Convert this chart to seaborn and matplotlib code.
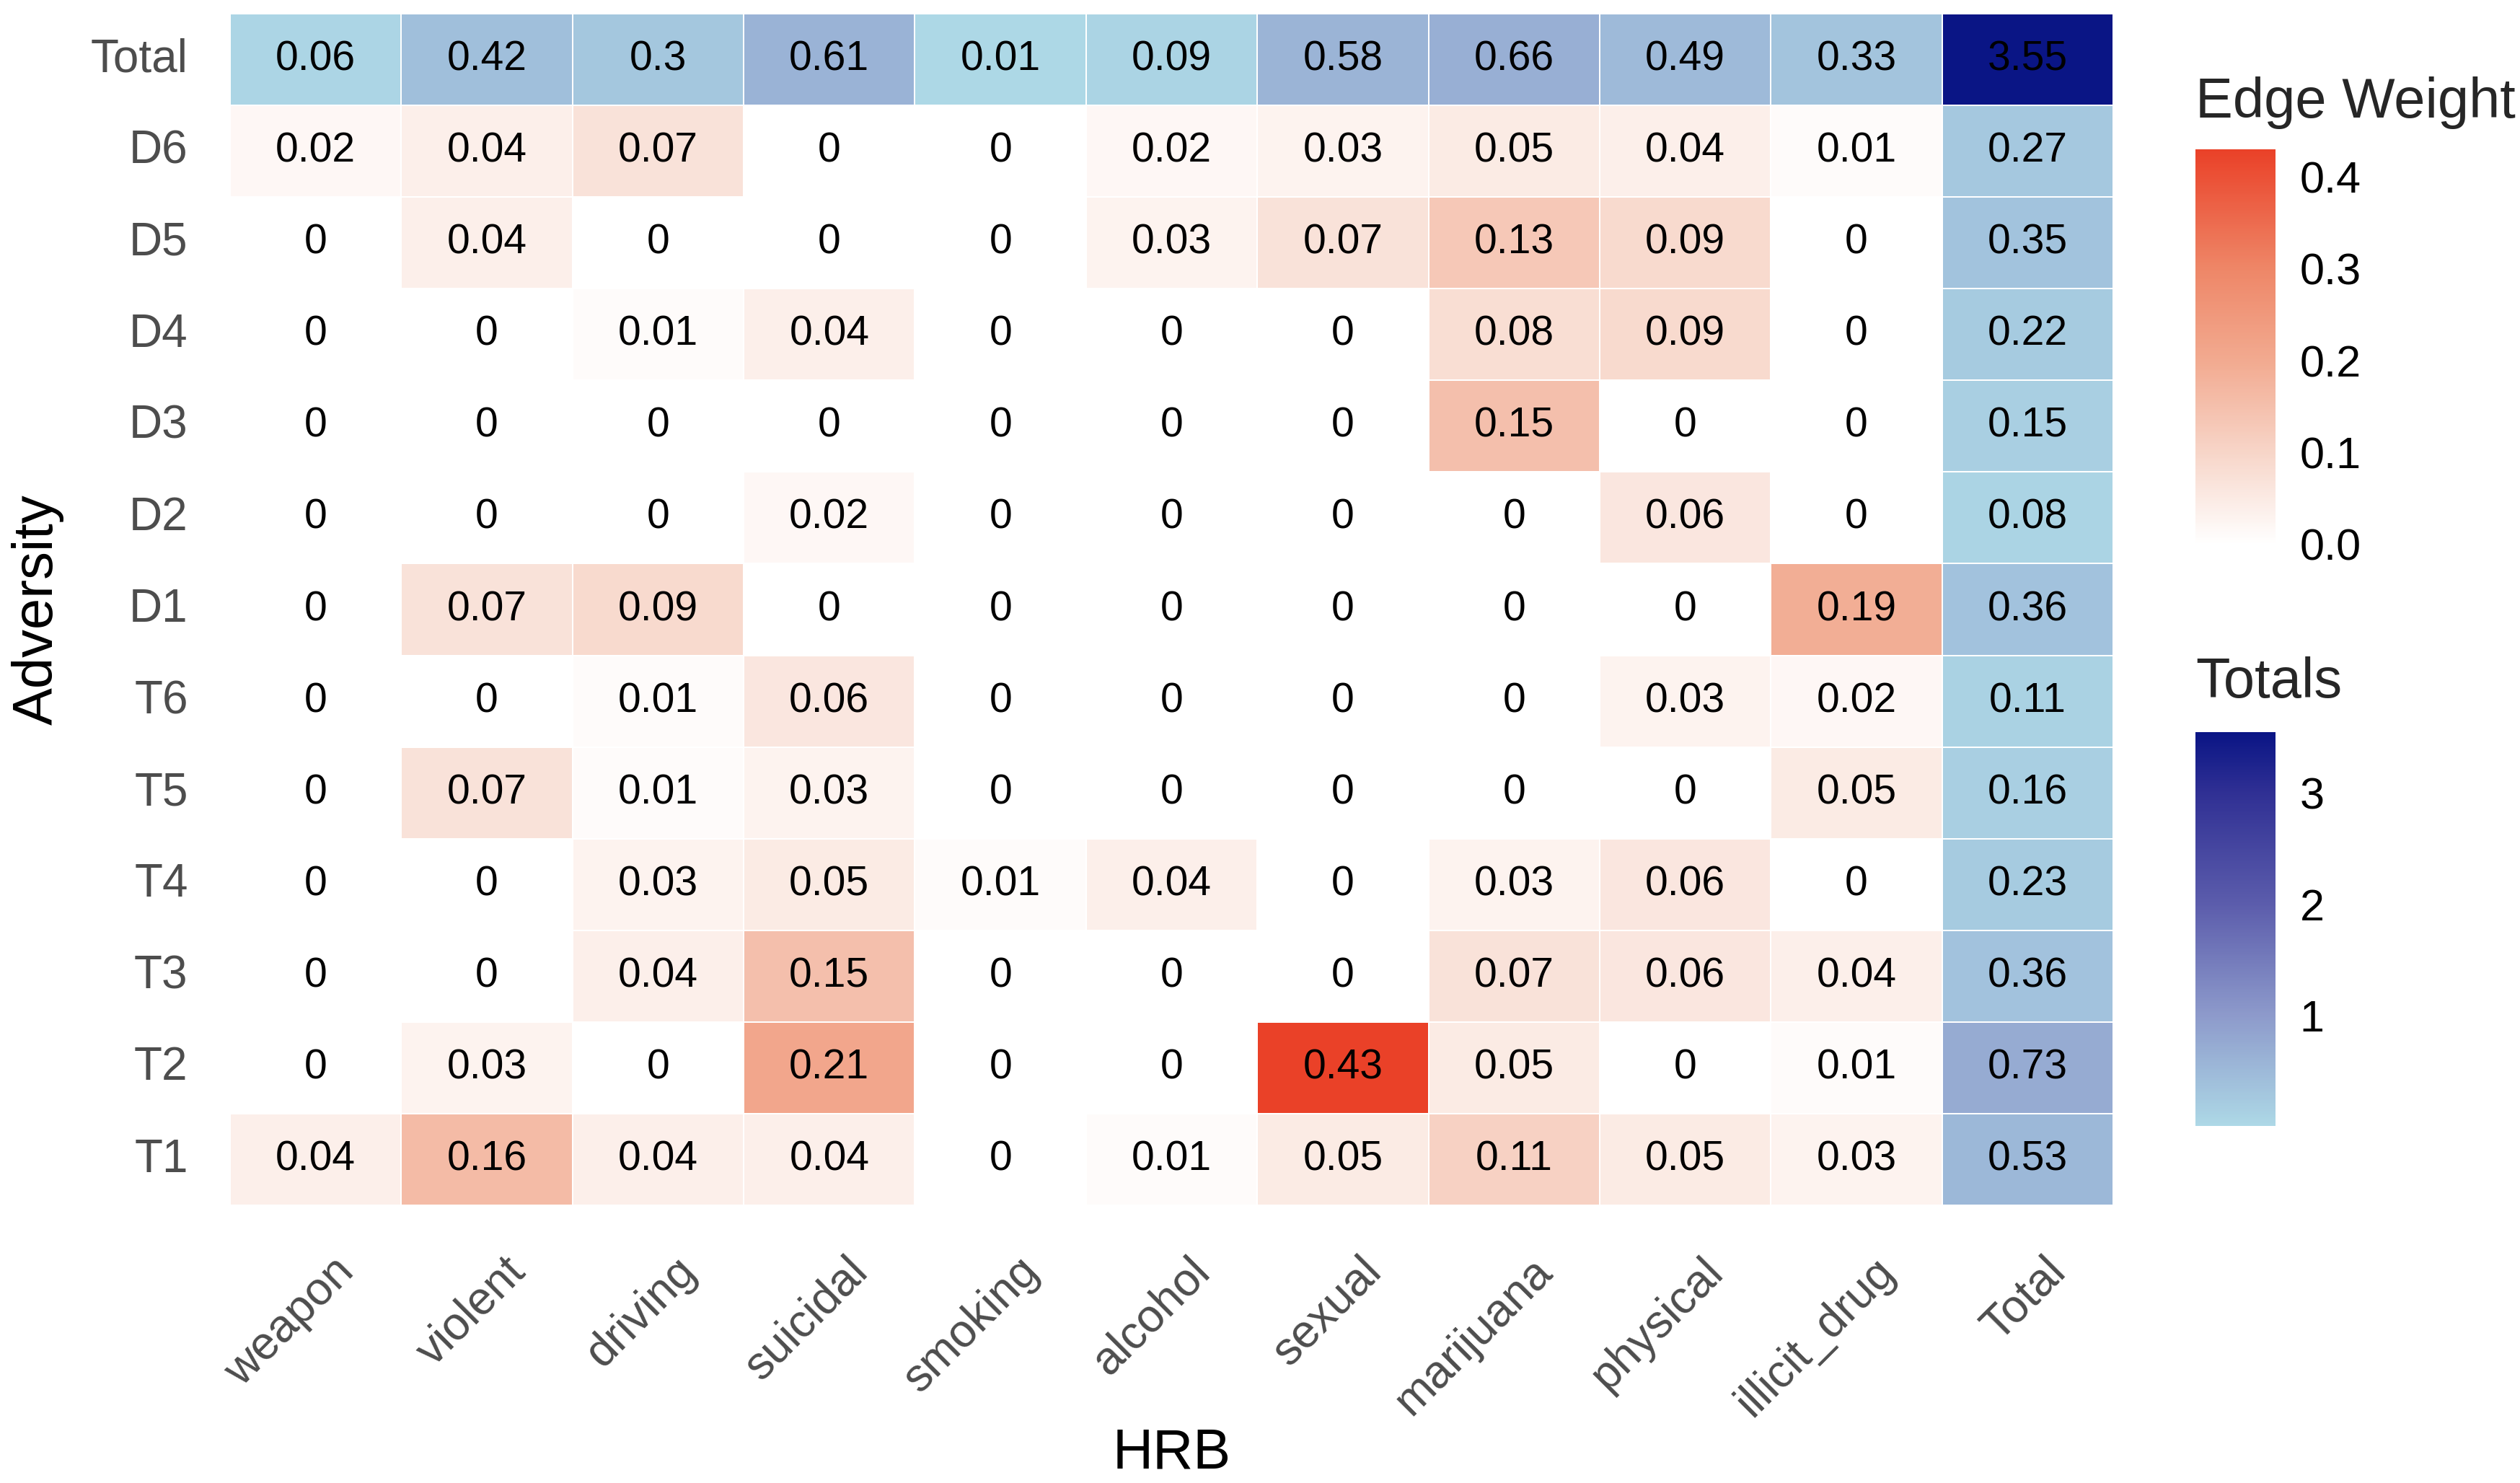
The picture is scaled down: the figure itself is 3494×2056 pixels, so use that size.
import numpy as np
import pandas as pd
import matplotlib
matplotlib.use("Agg")
import matplotlib.pyplot as plt
import matplotlib.transforms as mtransforms
from matplotlib.colors import LinearSegmentedColormap
from matplotlib.ticker import FormatStrFormatter
import seaborn as sns

# columns (health risk behaviours) and rows (adversities), top row first
hrb = ['weapon', 'violent', 'driving', 'suicidal', 'smoking', 'alcohol',
       'sexual', 'marijuana', 'physical', 'illicit_drug', 'Total']
adversity = ['Total', 'D6', 'D5', 'D4', 'D3', 'D2', 'D1',
             'T6', 'T5', 'T4', 'T3', 'T2', 'T1']

total_row = [0.06, 0.42, 0.3, 0.61, 0.01, 0.09, 0.58, 0.66, 0.49, 0.33, 3.55]
d6 = [0.02, 0.04, 0.07, 0, 0, 0.02, 0.03, 0.05, 0.04, 0.01, 0.27]
d5 = [0, 0.04, 0, 0, 0, 0.03, 0.07, 0.13, 0.09, 0, 0.35]
d4 = [0, 0, 0.01, 0.04, 0, 0, 0, 0.08, 0.09, 0, 0.22]
d3 = [0, 0, 0, 0, 0, 0, 0, 0.15, 0, 0, 0.15]
d2 = [0, 0, 0, 0.02, 0, 0, 0, 0, 0.06, 0, 0.08]
d1 = [0, 0.07, 0.09, 0, 0, 0, 0, 0, 0, 0.19, 0.36]
t6 = [0, 0, 0.01, 0.06, 0, 0, 0, 0, 0.03, 0.02, 0.11]
t5 = [0, 0.07, 0.01, 0.03, 0, 0, 0, 0, 0, 0.05, 0.16]
t4 = [0, 0, 0.03, 0.05, 0.01, 0.04, 0, 0.03, 0.06, 0, 0.23]
t3 = [0, 0, 0.04, 0.15, 0, 0, 0, 0.07, 0.06, 0.04, 0.36]
t2 = [0, 0.03, 0, 0.21, 0, 0, 0.43, 0.05, 0, 0.01, 0.73]
t1 = [0.04, 0.16, 0.04, 0.04, 0, 0.01, 0.05, 0.11, 0.05, 0.03, 0.53]

edge_ticks = [0.0, 0.1, 0.2, 0.3, 0.4]
total_ticks = [1, 2, 3]

df = pd.DataFrame([total_row, d6, d5, d4, d3, d2, d1, t6, t5, t4, t3, t2, t1],
                  index=adversity, columns=hrb)

# cells belonging to the Total row / column use the second scale
is_total = np.zeros(df.shape, dtype=bool)
is_total[df.index.get_loc('Total'), :] = True
is_total[:, df.columns.get_loc('Total')] = True

edge_max = df.values[~is_total].max()
tot_min = df.values[is_total].min()
tot_max = df.values[is_total].max()

edge_cmap = LinearSegmentedColormap.from_list(
    'edge', [(0, '#FFFFFF'), (0.233, '#F7D5C8'), (0.465, '#F2AA90'),
             (0.70, '#EE8667'), (1, '#EA4128')])
tot_cmap = LinearSegmentedColormap.from_list(
    'tot', [(0, '#ADD8E6'), (0.28, '#8D9ACB'), (0.56, '#5C5DAC'),
            (0.845, '#303094'), (1, '#0A1585')])

sns.set_style('white')
plt.rcParams['font.family'] = ['Liberation Sans', 'DejaVu Sans']

fig = plt.figure(figsize=(17.47, 10.28), dpi=200)
ax = fig.add_axes([0.0913, 0.1872, 0.7473, 0.8036])
cax_edge = fig.add_axes([0.8712, 0.6328, 0.0318, 0.2665])
cax_tot = fig.add_axes([0.8712, 0.2408, 0.0318, 0.2655])

annot_kws = dict(size=20.5, color='black')
sns.heatmap(df, mask=is_total, cmap=edge_cmap, vmin=0, vmax=edge_max,
            annot=True, fmt='g', annot_kws=annot_kws,
            linewidths=0.6, linecolor='white', ax=ax, cbar_ax=cax_edge,
            cbar_kws=dict(ticks=edge_ticks))
sns.heatmap(df, mask=~is_total, cmap=tot_cmap, vmin=tot_min, vmax=tot_max,
            annot=True, fmt='g', annot_kws=annot_kws,
            linewidths=0.6, linecolor='white', ax=ax, cbar_ax=cax_tot,
            cbar_kws=dict(ticks=total_ticks))

# axis styling
ax.tick_params(length=0, labelsize=23, labelcolor='#4D4D4D')
ax.tick_params(axis='y', pad=21, rotation=0)
ax.tick_params(axis='x', pad=22)
plt.setp(ax.get_xticklabels(), rotation=45, ha='right', va='top',
         rotation_mode='anchor')
shift = mtransforms.ScaledTranslation(8 / 72, 0, fig.dpi_scale_trans)
for lab in ax.get_xticklabels():
    lab.set_transform(lab.get_transform() + shift)

ax.set_xlabel('HRB', size=28, color='black')
ax.set_ylabel('Adversity', size=28, color='black')
ax.xaxis.set_label_coords(0.5, -0.186)
ax.yaxis.set_label_coords(-0.088, 0.5)

# legends
cax_edge.yaxis.set_major_formatter(FormatStrFormatter('%.1f'))
for cax in (cax_edge, cax_tot):
    cax.tick_params(axis='y', direction='in', length=8, width=1.2,
                    color='white', left=True, right=True, labelleft=False,
                    labelright=True, labelsize=22, labelcolor='black', pad=12)
    for s in cax.spines.values():
        s.set_visible(False)

fig.text(0.8712, 0.9207, 'Edge Weight', size=28, ha='left', va='baseline')
fig.text(0.8712, 0.5297, 'Totals', size=28, ha='left', va='baseline')

fig.savefig('out.png', dpi=200, facecolor='white')
